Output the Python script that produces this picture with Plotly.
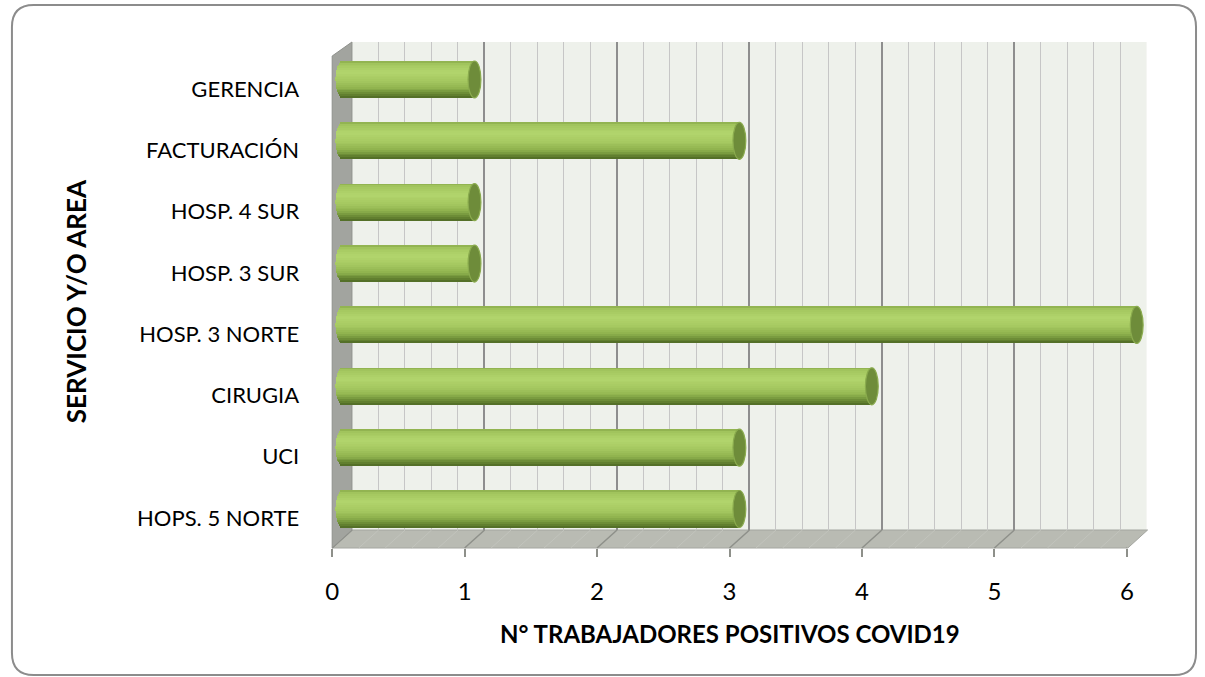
import math
import plotly.graph_objects as go

# ---------------- data ----------------
categories = ["HOPS. 5 NORTE", "UCI", "CIRUGIA", "HOSP. 3 NORTE",
              "HOSP. 3 SUR", "HOSP. 4 SUR", "FACTURACIÓN", "GERENCIA"]
values = [3, 3, 4, 6, 1, 1, 3, 1]
x_ticks = [0, 1, 2, 3, 4, 5, 6]
x_title = "N° TRABAJADORES POSITIVOS COVID19"
y_title = "SERVICIO Y/O AREA"

# ---------------- geometry helpers (pixels -> paper) ----------------
W, H = 1205, 677
def fx(px):
    return px / W
def fy(py):
    return 1 - py / H

FONT = "Lato, 'Open Sans', sans-serif"
idx = list(range(len(categories)))

# bar axis: value 0 at 339 px, 134 px per unit
X0_PX, UNIT = 339, 134
bar_dom_px = (329, 1160)
bar_range = [(bar_dom_px[0] - X0_PX) / UNIT, (bar_dom_px[1] - X0_PX) / UNIT]
plot_top, plot_bot = 42, 548
CAT_STEP = 61.36
bar_y_range = [(509 - plot_bot) / CAT_STEP, (509 - plot_top) / CAT_STEP]
lab_y_range = [(518 - plot_bot) / 61.3, (518 - plot_top) / 61.3]

BAR_H = 37 / CAT_STEP          # bar thickness in category units
RX = 6.5 / UNIT                # cap half-width in value units

# gradient of the cylinder from top (0) to bottom (1)
stops = [(0.0, (0x8A, 0xAC, 0x4B)), (0.08, (0xA3, 0xC6, 0x5E)),
         (0.30, (0xB2, 0xD5, 0x6D)), (0.55, (0xA5, 0xC8, 0x60)),
         (0.75, (0x8E, 0xB1, 0x4D)), (0.88, (0x6C, 0x8C, 0x36)),
         (1.0, (0x4E, 0x69, 0x24))]

def grad(t):
    for (t0, c0), (t1, c1) in zip(stops[:-1], stops[1:]):
        if t0 <= t <= t1:
            f = (t - t0) / (t1 - t0)
            c = [round(a + (b - a) * f) for a, b in zip(c0, c1)]
            return "rgb(%d,%d,%d)" % tuple(c)
    return "rgb(%d,%d,%d)" % stops[-1][1]

fig = go.Figure()

N = 20
h = BAR_H / N
for k in range(N):
    t = (k + 0.5) / N
    s = 1 - 2 * t                      # +1 top ... -1 bottom
    left = -RX * math.sqrt(max(0.0, 1 - s * s))
    fig.add_trace(go.Bar(
        orientation="h",
        y=idx,
        x=[v - left for v in values],
        base=[left] * len(values),
        width=h * 1.08,
        offset=BAR_H / 2 - (k + 1) * h,
        marker=dict(color=grad(t), line=dict(width=0)),
        xaxis="x2", yaxis="y2",
        hoverinfo="skip", showlegend=False,
    ))

# invisible helper traces so every subplot / axis is drawn
fig.add_trace(go.Scatter(x=[None], y=[None], xaxis="x", yaxis="y",
                         showlegend=False, hoverinfo="skip"))
fig.add_trace(go.Scatter(x=[0] * len(idx), y=idx, xaxis="x2", yaxis="y3",
                         mode="markers", marker=dict(opacity=0),
                         showlegend=False, hoverinfo="skip"))
fig.add_trace(go.Scatter(x=x_ticks, y=[0] * len(x_ticks), xaxis="x3", yaxis="y2",
                         mode="markers", marker=dict(opacity=0),
                         showlegend=False, hoverinfo="skip"))

shapes = []
# outer rounded border
r = 22
x0b, y0b, x1b, y1b = 5, 5, 1203, 675
path = (f"M {fx(x0b + r)} {fy(y0b)} L {fx(x1b - r)} {fy(y0b)} "
        f"Q {fx(x1b)} {fy(y0b)} {fx(x1b)} {fy(y0b + r)} "
        f"L {fx(x1b)} {fy(y1b - r)} Q {fx(x1b)} {fy(y1b)} {fx(x1b - r)} {fy(y1b)} "
        f"L {fx(x0b + r)} {fy(y1b)} Q {fx(x0b)} {fy(y1b)} {fx(x0b)} {fy(y1b - r)} "
        f"L {fx(x0b)} {fy(y0b + r)} Q {fx(x0b)} {fy(y0b)} {fx(x0b + r)} {fy(y0b)} Z")
shapes.append(dict(type="path", xref="paper", yref="paper", path=path,
                   line=dict(color="#8C8C8C", width=2), fillcolor="rgba(0,0,0,0)",
                   layer="above"))

# back wall
shapes.append(dict(type="rect", xref="paper", yref="paper",
                   x0=fx(349), x1=fx(1153), y0=fy(530), y1=fy(42),
                   fillcolor="#EEF1EB", line=dict(width=0), layer="below"))
# floor
floor = (f"M {fx(349)} {fy(530)} L {fx(1154)} {fy(530)} L {fx(1134)} {fy(548)} "
         f"L {fx(329)} {fy(548)} Z")
shapes.append(dict(type="path", xref="paper", yref="paper", path=floor,
                   fillcolor="#B9BBB3", line=dict(color="#A4A6A0", width=1),
                   layer="below"))
# floor diagonals (minor then major)
minor_vals = [i / 5 for i in range(0, 31)]
for v in minor_vals:
    if abs(v - round(v)) < 1e-9:
        continue
    shapes.append(dict(type="line", xref="x3", yref="paper",
                       xsizemode="pixel", xanchor=v, x0=0, x1=20,
                       y0=fy(548), y1=fy(530),
                       line=dict(color="#C2C4BD", width=1), layer="below"))
for v in x_ticks:
    shapes.append(dict(type="line", xref="x3", yref="paper",
                       xsizemode="pixel", xanchor=v, x0=0, x1=20,
                       y0=fy(548), y1=fy(530),
                       line=dict(color="#8E908A", width=1.5), layer="below"))
# left wall
lw = (f"M {fx(329)} {fy(56)} L {fx(349)} {fy(42)} L {fx(349)} {fy(530)} "
      f"L {fx(329)} {fy(548)} Z")
shapes.append(dict(type="path", xref="paper", yref="paper", path=lw,
                   fillcolor="#A2A49F", line=dict(color="#8F918C", width=1),
                   layer="below"))

# cylinder end caps
for i, v in zip(idx, values):
    shapes.append(dict(type="circle", xref="x2", yref="y2",
                       x0=v - RX, x1=v + RX, y0=i - BAR_H / 2, y1=i + BAR_H / 2,
                       fillcolor="#6E8C3A", line=dict(color="#8AAB4E", width=1.2),
                       layer="above"))

annotations = [
    dict(text=f"<b>{y_title}</b>", xref="paper", yref="paper",
         x=fx(70), y=fy(301), textangle=-90, showarrow=False,
         font=dict(family=FONT, size=26, color="#000000"),
         xanchor="center", yanchor="middle"),
    dict(text=f"<b>{x_title}</b>", xref="paper", yref="paper",
         x=fx(731), y=fy(633), showarrow=False,
         font=dict(family=FONT, size=24, color="#000000"),
         xanchor="center", yanchor="middle"),
]

fig.update_layout(
    width=W, height=H,
    margin=dict(l=0, r=0, t=0, b=0),
    paper_bgcolor="white",
    plot_bgcolor="rgba(0,0,0,0)",
    barmode="overlay",
    bargap=0,
    showlegend=False,
    font=dict(family=FONT, color="#000000"),
    # back wall grid
    xaxis=dict(domain=[fx(349), fx(1153)], range=[0, 6], anchor="y",
               showgrid=True, gridcolor="#8E8E8E", gridwidth=1.5,
               tick0=0, dtick=1, showticklabels=False, ticks="",
               zeroline=False, showline=False, fixedrange=True,
               minor=dict(dtick=0.2, showgrid=True, gridcolor="#C6C6C6",
                          gridwidth=1.2)),
    yaxis=dict(domain=[fy(530), fy(42)], range=[0, 1], anchor="x",
               showgrid=False, showticklabels=False, zeroline=False,
               fixedrange=True),
    # bars
    xaxis2=dict(domain=[fx(bar_dom_px[0]), fx(bar_dom_px[1])], range=bar_range,
                anchor="y2", showgrid=False, showticklabels=False, ticks="",
                zeroline=False, showline=False, fixedrange=True),
    yaxis2=dict(domain=[fy(plot_bot), fy(plot_top)], range=bar_y_range,
                anchor="x2", showgrid=False, showticklabels=False, ticks="",
                zeroline=False, fixedrange=True),
    # category labels
    yaxis3=dict(overlaying="y2", range=lab_y_range, anchor="x2", side="left",
                tickmode="array", tickvals=idx, ticktext=categories,
                showgrid=False, zeroline=False, ticks="",
                ticklabelstandoff=32,
                tickfont=dict(family=FONT, size=22, color="#000000"),
                fixedrange=True),
    # floor tick labels
    xaxis3=dict(domain=[fx(329), fx(1133)], range=[0, 6], anchor="y2",
                tickmode="array", tickvals=x_ticks,
                ticktext=[str(t) for t in x_ticks],
                ticks="outside", ticklen=8, tickwidth=1.5, tickcolor="#8E908A",
                showgrid=False, zeroline=False, showline=False,
                ticklabelstandoff=14,
                tickfont=dict(family=FONT, size=24, color="#000000"),
                fixedrange=True),
    shapes=shapes,
    annotations=annotations,
)

fig.write_html(
    "out.html",
    config={"displayModeBar": False},
    post_script="document.body.style.margin='0';document.body.style.overflow='hidden';",
)
